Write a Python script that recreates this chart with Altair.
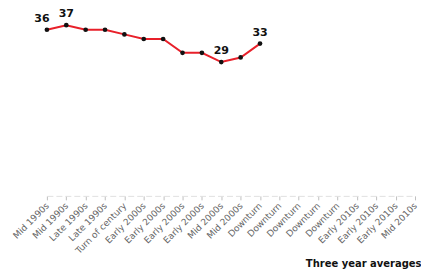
import altair as alt
import pandas as pd

categories = ["Mid 1990s", "Mid 1990s", "Late 1990s", "Late 1990s", "Turn of century",
              "Early 2000s", "Early 2000s", "Early 2000s", "Early 2000s", "Mid 2000s",
              "Mid 2000s", "Downturn", "Downturn", "Downturn", "Downturn", "Downturn",
              "Early 2010s", "Early 2010s", "Early 2010s", "Mid 2010s"]
values = [36, 37, 36, 36, 35, 34, 34, 31, 31, 29, 30, 33]
labelled = [0, 1, 9, 11]

df = pd.DataFrame({
    "idx": list(range(len(values))),
    "value": values,
})
df["label"] = [str(v) if i in labelled else "" for i, v in enumerate(values)]

label_expr = "[" + ",".join('"%s"' % c for c in categories) + "][datum.value]"

x = alt.X("idx:O", scale=alt.Scale(domain=list(range(len(categories))), padding=0),
          axis=alt.Axis(title="Three year averages", labelExpr=label_expr,
                        labelAngle=-45, labelAlign="right", labelBaseline="middle",
                        labelFont="DejaVu Sans", labelFontSize=9, labelColor="#666",
                        labelPadding=4,
                        domainColor="#e0e0e0", domainDash=[6, 3], tickColor="#c0c0c0",
                        tickSize=4, titleFont="DejaVu Sans", titleFontSize=10,
                        titleFontWeight="bold", titleColor="#111",
                        titleAnchor="end", titleAlign="right", titleX=375, titleY=68,
                        titleBaseline="middle"))
y = alt.Y("value:Q", scale=alt.Scale(domain=[0, 40], nice=False, zero=True), axis=None)

base = alt.Chart(df).encode(x=x, y=y)
line = base.mark_line(color="#e8202a", strokeWidth=2)
pts = base.mark_point(filled=True, color="#111", size=22, opacity=1)
txt_first = base.transform_filter("datum.idx == 0").mark_text(
    dy=-11, dx=-5, font="DejaVu Sans", fontSize=11, fontWeight="bold",
    color="#111").encode(text="label:N")
txt = base.transform_filter("datum.idx != 0").mark_text(
    dy=-11, font="DejaVu Sans", fontSize=11, fontWeight="bold",
    color="#111").encode(text="label:N")

chart = alt.layer(line, pts, txt_first, txt).properties(
    width=369, height=185,
    autosize=alt.AutoSizeParams(type="none"),
    padding={"left": 39, "top": 3, "right": 6, "bottom": 79},
).configure_view(stroke=None)

chart.save("out.html", embed_options={"renderer": "svg", "actions": False})
